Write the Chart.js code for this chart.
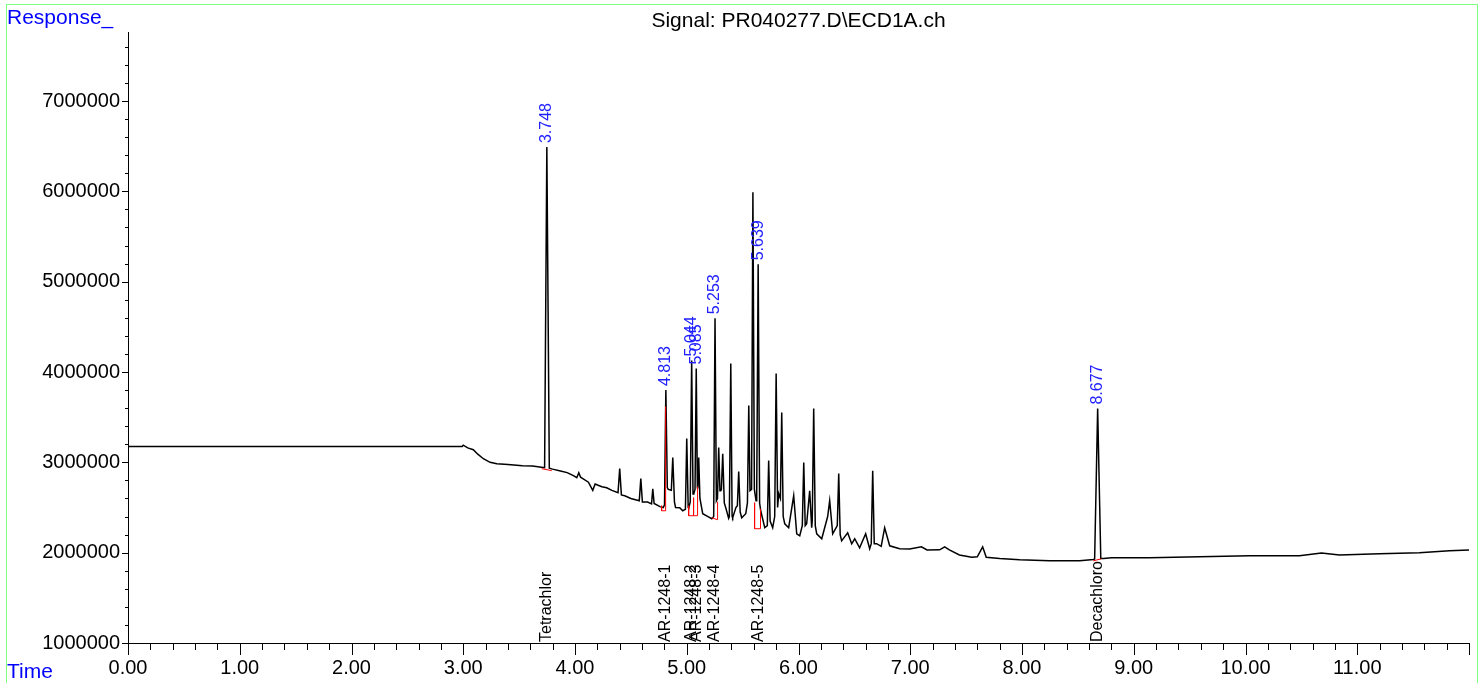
<!DOCTYPE html>
<html>
<head>
<meta charset="utf-8">
<script src="https://cdn.jsdelivr.net/npm/chart.js@4"></script>
<style>
  html, body { margin: 0; padding: 0; background: #fff; }
  #wrap { width: 1482px; height: 683px; }
</style>
</head>
<body>
<div id="wrap"><canvas id="chrom"></canvas></div>
<script>
/* Cromatograma ECD1A */
const times = [
  0, 2.99, 3.00, 3.04, 3.09, 3.13, 3.18, 3.24, 3.30, 3.40,
  3.53, 3.62, 3.70, 3.728, 3.748, 3.770, 3.80, 3.87, 3.93, 3.99,
  4.016, 4.034, 4.05, 4.07, 4.12, 4.159, 4.18, 4.24, 4.284, 4.33,
  4.385, 4.40, 4.415, 4.445, 4.50, 4.575, 4.589, 4.603, 4.65, 4.685,
  4.696, 4.708, 4.76, 4.79, 4.801, 4.813, 4.826, 4.835, 4.862, 4.875,
  4.890, 4.90, 4.937, 4.964, 4.988, 5.000, 5.013, 5.018, 5.031, 5.044,
  5.056, 5.063, 5.074, 5.085, 5.095, 5.099, 5.107, 5.118, 5.143, 5.190,
  5.224, 5.241, 5.253, 5.265, 5.275, 5.286, 5.297, 5.304, 5.310, 5.322,
  5.336, 5.349, 5.375, 5.381, 5.394, 5.406, 5.411, 5.440, 5.453, 5.465,
  5.478, 5.492, 5.528, 5.543, 5.555, 5.566, 5.572, 5.580, 5.592, 5.605,
  5.620, 5.626, 5.639, 5.652, 5.662, 5.698, 5.721, 5.733, 5.746, 5.769,
  5.787, 5.800, 5.813, 5.823, 5.838, 5.850, 5.863, 5.877, 5.912, 5.957,
  5.984, 6.011, 6.034, 6.047, 6.060, 6.073, 6.100, 6.118, 6.123, 6.136,
  6.150, 6.163, 6.208, 6.261, 6.279, 6.306, 6.347, 6.360, 6.373, 6.386,
  6.440, 6.476, 6.503, 6.547, 6.601, 6.637, 6.651, 6.664, 6.678, 6.699,
  6.740, 6.771, 6.816, 6.905, 6.995, 7.10, 7.15, 7.263, 7.308, 7.35,
  7.44, 7.55, 7.60, 7.648, 7.68, 7.80, 7.979, 8.247, 8.515, 8.64,
  8.650, 8.677, 8.705, 8.73, 8.80, 9.141, 9.589, 10.036, 10.483, 10.68,
  10.841, 11.199, 11.556, 11.825, 12.0
];

const response = [
  3175000, 3175000, 3190000, 3160000, 3140000, 3090000, 3040000, 3000000, 2985000, 2975000,
  2963000, 2960000, 2945000, 2940000, 6490000, 2935000, 2925000, 2905000, 2886000, 2850000,
  2830000, 2885000, 2835000, 2819000, 2780000, 2690000, 2760000, 2730000, 2719000, 2690000,
  2664000, 2930000, 2640000, 2630000, 2600000, 2575000, 2820000, 2560000, 2560000, 2540000,
  2708000, 2545000, 2510000, 2500000, 2530000, 3800000, 2720000, 2700000, 2690000, 3052000,
  2560000, 2500000, 2497000, 2464000, 2480000, 3263000, 2500000, 2497000, 2560000, 4128000,
  2650000, 2653000, 2700000, 4039000, 2719000, 2720000, 3052000, 2600000, 2431000, 2400000,
  2376000, 2400000, 4594000, 2575000, 2600000, 3163000, 2686000, 2686000, 2700000, 3096000,
  2550000, 2497000, 2380000, 2400000, 4094000, 2400000, 2387000, 2500000, 2520000, 2897000,
  2450000, 2387000, 2431000, 2550000, 3629000, 2686000, 2686000, 2700000, 5990000, 2700000,
  2575000, 2650000, 5192000, 2550000, 2464000, 2276000, 2300000, 3019000, 2350000, 2276000,
  2400000, 3984000, 2500000, 2653000, 2600000, 3551000, 2400000, 2320000, 2276000, 2630000,
  2209000, 2187000, 2300000, 2997000, 2300000, 2320000, 2686000, 2276000, 2350000, 3595000,
  2300000, 2209000, 2154000, 2400000, 2575000, 2209000, 2300000, 2875000, 2200000, 2131000,
  2220000, 2098000, 2154000, 2054000, 2209000, 2043000, 2100000, 2908000, 2100000, 2100000,
  2070000, 2276000, 2076000, 2043000, 2040000, 2065000, 2030000, 2032000, 2065000, 2030000,
  1975000, 1950000, 1955000, 2065000, 1950000, 1935000, 1921000, 1910000, 1910000, 1925000,
  1930000, 3595000, 1935000, 1935000, 1943000, 1943000, 1954000, 1965000, 1965000, 1995000,
  1975000, 1987000, 2000000, 2020000, 2030000
];

// picos integrados
const peakTimes = [3.748, 4.813, 5.044, 5.085, 5.253, 5.639, 8.677];
const peakNames = ['Tetrachlor', 'AR-1248-1', 'AR-1248-2', 'AR-1248-3', 'AR-1248-4', 'AR-1248-5', 'Decachloro'];

// linhas de base (vermelho)
const baselines = [
  [[3.702, 2930000], [3.792, 2908000]],
  [[4.775, 2520000], [4.775, 2464000], [4.811, 2464000], [4.811, 3618000]],
  [[5.017, 2520000], [5.017, 2409000], [5.097, 2409000], [5.097, 2730000]],
  [[5.061, 2608000], [5.061, 2409000]],
  [[5.222, 2387000], [5.276, 2365000], [5.276, 2564000]],
  [[5.607, 2553000], [5.607, 2265000], [5.660, 2265000], [5.660, 2486000]],
  [[8.638, 1910000], [8.710, 1932000]]
];

const xTicks = [];
for (let i = 0; i <= 60; i++) xTicks.push(i / 5);
const yTicks = [];
for (let i = 0; i <= 33; i++) yTicks.push(1000000 + i * 200000);

const FONT = "'Liberation Sans', Arial, sans-serif";

const redData = [];
baselines.forEach(seg => {
  seg.forEach(p => redData.push({x: p[0], y: p[1]}));
  redData.push({x: seg[seg.length - 1][0], y: null});
});

const decor = {
  id: 'decor',
  beforeDraw(chart) {
    const ctx = chart.ctx;
    ctx.save();
    ctx.strokeStyle = '#80ff80';
    ctx.lineWidth = 1;
    ctx.strokeRect(6.5, 4.5, 1471, 700);
    ctx.restore();
  },
  afterDraw(chart) {
    const ctx = chart.ctx;
    const x = chart.scales.x, y = chart.scales.y;
    const a = chart.chartArea;
    ctx.save();
    // eixos
    ctx.strokeStyle = '#000';
    ctx.lineWidth = 1;
    ctx.beginPath();
    ctx.moveTo(a.left + 0.5, a.top);
    ctx.lineTo(a.left + 0.5, a.bottom + 0.5);
    ctx.lineTo(a.right, a.bottom + 0.5);
    xTicks.forEach(v => {
      const px = Math.round(x.getPixelForValue(v)) + 0.5;
      const len = Math.abs(v - Math.round(v)) < 1e-6 ? 12 : 7;
      ctx.moveTo(px, a.bottom);
      ctx.lineTo(px, a.bottom + len);
    });
    yTicks.forEach(v => {
      const py = Math.round(y.getPixelForValue(v)) + 0.5;
      const len = v % 1000000 === 0 ? 6 : 3;
      ctx.moveTo(a.left, py);
      ctx.lineTo(a.left - len, py);
    });
    ctx.stroke();

    // titulo e rotulos dos eixos
    ctx.fillStyle = '#000';
    ctx.font = '21px ' + FONT;
    ctx.textAlign = 'center';
    ctx.textBaseline = 'alphabetic';
    ctx.fillText('Signal: PR040277.D\\ECD1A.ch', (a.left + a.right) / 2, 27);
    ctx.fillStyle = '#0000ff';
    ctx.textAlign = 'left';
    ctx.fillText('Response_', 7, 24);
    ctx.fillText('Time', 7, 678);

    // tempos de retencao e nomes
    ctx.font = '16px ' + FONT;
    ctx.textBaseline = 'middle';
    peakTimes.forEach((t, i) => {
      const idx = times.indexOf(t);
      const px = x.getPixelForValue(t);
      const py = y.getPixelForValue(response[idx]);
      ctx.save();
      ctx.translate(px, py - 4);
      ctx.rotate(-Math.PI / 2);
      ctx.fillStyle = '#2020ff';
      ctx.fillText(t.toFixed(3), 0, 0);
      ctx.restore();
      ctx.save();
      ctx.translate(px, a.bottom - 1);
      ctx.rotate(-Math.PI / 2);
      ctx.fillStyle = '#000';
      ctx.fillText(peakNames[i], 0, 0);
      ctx.restore();
    });
    ctx.restore();
  }
};

new Chart(document.getElementById('chrom'), {
  type: 'line',
  data: {
    datasets: [{
      data: redData,
      borderColor: '#ff0000',
      borderWidth: 1,
      pointRadius: 0,
      spanGaps: false,
      order: 0
    }, {
      data: times.map((t, i) => ({x: t, y: response[i]})),
      borderColor: '#000',
      borderWidth: 1.5,
      pointRadius: 0,
      tension: 0,
      order: 1
    }]
  },
  options: {
    responsive: true,
    maintainAspectRatio: false,
    animation: false,
    events: [],
    layout: { padding: { top: 32, right: 12, left: 0, bottom: 0 } },
    plugins: { legend: { display: false }, tooltip: { enabled: false } },
    scales: {
      x: {
        type: 'linear',
        min: 0,
        max: 12,
        afterBuildTicks: s => { s.ticks = xTicks.map(v => ({value: v})); },
        afterFit: s => { s.height = 40; },
        grid: { display: false, drawTicks: false },
        border: { display: false },
        ticks: {
          autoSkip: false,
          maxRotation: 0,
          padding: 13,
          color: '#000',
          font: { family: FONT, size: 20 },
          callback: v => (Math.abs(v - Math.round(v)) < 1e-6 && v < 12) ? v.toFixed(2) : ''
        }
      },
      y: {
        min: 1000000,
        max: 7764000,
        afterBuildTicks: s => { s.ticks = yTicks.map(v => ({value: v})); },
        afterFit: s => { s.width = 128; },
        grid: { display: false, drawTicks: false },
        border: { display: false },
        ticks: {
          autoSkip: false,
          padding: 8,
          color: '#000',
          font: { family: FONT, size: 20 },
          callback: v => v % 1000000 === 0 ? String(v) : ''
        }
      }
    }
  },
  plugins: [decor]
});
</script>
</body>
</html>
